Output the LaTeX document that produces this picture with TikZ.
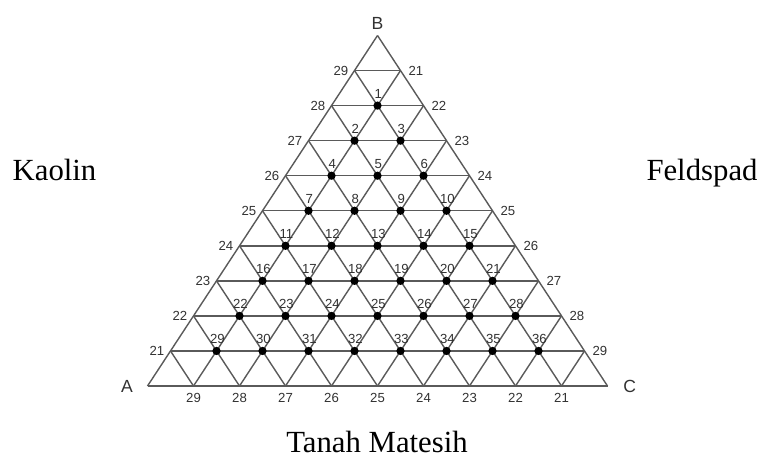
\documentclass[tikz,border=0pt]{standalone}
\usepackage{fontspec}
\setmainfont{Liberation Serif}
\newfontfamily\numfont{Liberation Sans}
\usepackage{tikz}
\usetikzlibrary{calc}
\definecolor{gridgray}{RGB}{90,90,90}
\definecolor{numgray}{RGB}{50,50,50}
\tikzset{
  gridline/.style={draw=gridgray, line width=0.8pt},
  dot/.style={circle, fill=black, inner sep=0pt, minimum size=0.165cm},
  dotnum/.style={font=\numfont\fontsize{7.5}{8}\selectfont, text=numgray, inner sep=1pt},
  sidenum/.style={font=\numfont\fontsize{7.5}{8}\selectfont, text=numgray, inner sep=1pt},
  corner/.style={font=\numfont\fontsize{10}{12}\selectfont, text=numgray, inner sep=0pt},
  caption/.style={font=\fontsize{17.5}{20}\selectfont, inner sep=0pt}
}

\begin{document}
\begin{tikzpicture}[x=0.02cm, y=-0.02cm]
        \useasboundingbox (0,0) rectangle (763,457);
        % vertices of the triangular grid, row k from the top
        \foreach \k in {0,...,10} {
            \foreach \j in {0,...,\k} {
                \coordinate (v-\k-\j) at ({377.5-23*\k+46*\j}, {35.5+35.05*\k});
            }
        }
        % the three families of lines
        \foreach \k in {1,...,10}
            \draw[gridline] (v-\k-0) -- (v-\k-\k);
        \foreach \j in {0,...,9}
            \draw[gridline] (v-\j-\j) -- (v-10-\j);
        \foreach \m [evaluate=\m as \n using int(10-\m)] in {0,...,9}
            \draw[gridline] (v-\m-0) -- (v-10-\n);
        % numbered points
        \foreach \k in {2,...,9} {
            \pgfmathtruncatemacro\last{\k-1}
            \foreach \j in {1,...,\last} {
                \pgfmathtruncatemacro\n{(\k-2)*(\k-1)/2+\j}
                \node[dot, label={[dotnum, label distance=0.5pt, xshift=0.5pt]above:\n}] (p\n) at (v-\k-\j) {};
            }
        }
        % scale numbers on the sides
        \foreach \k in {1,...,9} {
            \pgfmathtruncatemacro\lv{30-\k}
            \pgfmathtruncatemacro\rv{20+\k}
            \node[sidenum, anchor=east, xshift=-2.4pt] (left\k) at (v-\k-0) {\lv};
            \node[sidenum, anchor=west, xshift=3.4pt] (right\k) at (v-\k-\k) {\rv};
            \node[sidenum, anchor=north, yshift=-3pt] (bottom\k) at (v-10-\k) {\lv};
        }
        \node[corner, anchor=south, yshift=3pt] (B) at (v-0-0) {B};
        \node[corner, anchor=east, xshift=-8.2pt] (A) at (v-10-0) {A};
        \node[corner, anchor=west, xshift=8.8pt] (C) at (v-10-10) {C};
        \node[caption, anchor=base] (kaolin) at (54.5,180.7) {Kaolin};
        \node[caption, anchor=base] (feldspad) at (702,180.7) {Feldspad};
        \node[caption, anchor=base] (tanah) at (377,452) {Tanah Matesih};
\end{tikzpicture}
\end{document}
